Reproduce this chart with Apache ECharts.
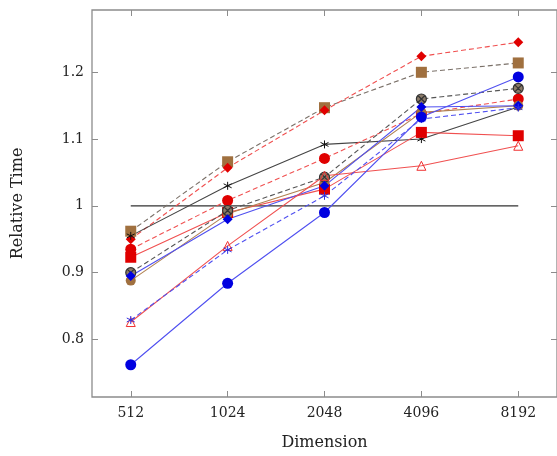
<!DOCTYPE html>
<html>
<head>
<meta charset="utf-8">
<script src="https://cdn.jsdelivr.net/npm/echarts@6/dist/echarts.min.js"></script>
<style>
  html, body { margin: 0; padding: 0; background: #ffffff; }
  #chart { width: 557px; height: 456px; }
</style>
</head>
<body>
<div id="chart"></div>
<script>
// x categories (log2 spaced) and y tick labels
const dims = ['512', '1024', '2048', '4096', '8192'];
const yTicks = [0.8, 0.9, 1, 1.1, 1.2];

// series values, one per dimension
const refLine = [1, 1, 1, 1, 1];
const brownSquare = [0.962, 1.066, 1.147, 1.200, 1.214];
const redDiamond = [0.950, 1.057, 1.143, 1.224, 1.245];
const blackStar = [0.955, 1.030, 1.092, 1.100, 1.148];
const redCircle = [0.935, 1.008, 1.071, 1.138, 1.160];
const redSquare = [0.923, 0.990, 1.025, 1.110, 1.105];
const otimes = [0.900, 0.993, 1.043, 1.160, 1.176];
const brownCircle = [0.888, 0.988, 1.035, 1.140, 1.150];
const blueDiamond = [0.895, 0.980, 1.030, 1.148, 1.150];
const redTriangle = [0.826, 0.940, 1.045, 1.060, 1.090];
const blueStar = [0.829, 0.934, 1.015, 1.130, 1.147];
const blueCircle = [0.762, 0.884, 0.990, 1.133, 1.193];

const asterisk = 'path://M0,-5L0,5M-4.33,-2.5L4.33,2.5M-4.33,2.5L4.33,-2.5';
const otimesPath = 'path://M5,0A5,5 0 1,1 -5,0A5,5 0 1,1 5,0ZM-3.5,-3.5L3.5,3.5M-3.5,3.5L3.5,-3.5';

function pts(arr) {
  return arr.map((v, i) => [i, v]);
}

function line(name, arr, lineColor, dashed, symbol, size, fill, border, bw) {
  return {
    name: name,
    type: 'line',
    data: pts(arr),
    symbol: symbol,
    symbolSize: size,
    lineStyle: { color: lineColor, width: 1.1, type: dashed ? [5, 3] : 'solid' },
    itemStyle: { color: fill, borderColor: border || fill, borderWidth: bw || 0 },
    animation: false
  };
}

const grey = '#8c8c8c';
const fontFam = 'DejaVu Serif';
const tickStyle = { show: true, inside: true, length: 6, lineStyle: { color: grey } };

let option = {
  backgroundColor: '#ffffff',
  grid: { left: 92, right: -3, top: 10, bottom: 57, show: true, borderColor: grey, borderWidth: 1.3 },
  xAxis: [
    {
      type: 'value', min: -0.4, max: 4.4,
      axisLine: { show: false, onZero: false },
      splitLine: { show: false },
      axisTick: Object.assign({ customValues: [0, 1, 2, 3, 4] }, tickStyle),
      axisLabel: {
        customValues: [0, 1, 2, 3, 4],
        formatter: v => dims[Math.round(v)],
        color: '#222', fontFamily: fontFam, fontSize: 14, margin: 9
      },
      name: 'Dimension', nameLocation: 'middle', nameGap: 38,
      nameTextStyle: { color: '#222', fontFamily: fontFam, fontSize: 16 }
    },
    {
      type: 'value', min: -0.4, max: 4.4, position: 'top',
      axisLine: { show: false, onZero: false }, splitLine: { show: false },
      axisTick: Object.assign({ customValues: [0, 1, 2, 3, 4] }, tickStyle),
      axisLabel: { show: false }
    }
  ],
  yAxis: [
    {
      type: 'value', min: 0.7137, max: 1.2933,
      axisLine: { show: false, onZero: false }, splitLine: { show: false },
      axisTick: Object.assign({ customValues: yTicks }, tickStyle),
      axisLabel: {
        customValues: yTicks,
        formatter: v => String(Math.round(v * 10) / 10),
        color: '#222', fontFamily: fontFam, fontSize: 14, margin: 8
      },
      name: 'Relative Time', nameLocation: 'middle', nameGap: 66, nameRotate: 90,
      nameTextStyle: { color: '#222', fontFamily: fontFam, fontSize: 16 }
    },
    {
      type: 'value', min: 0.7137, max: 1.2933, position: 'right',
      axisLine: { show: false, onZero: false }, splitLine: { show: false },
      axisTick: Object.assign({ customValues: yTicks }, tickStyle),
      axisLabel: { show: false }
    }
  ],
  series: [
    line('ref', refLine, '#333333', false, 'none', 0, '#333'),
    line('brownSquare', brownSquare, '#7a7068', true, 'rect', 11, '#a0703f'),
    line('redDiamond', redDiamond, '#f05050', true, 'diamond', 10, '#e00000'),
    line('blackStar', blackStar, '#444444', false, asterisk, 8, 'rgba(0,0,0,0)', '#111', 1),
    line('redCircle', redCircle, '#f05050', true, 'circle', 11, '#e00000'),
    line('redSquare', redSquare, '#f05050', false, 'rect', 11, '#e00000'),
    line('brownCircle', brownCircle, '#b08050', false, 'circle', 10, '#a0703f'),
    line('otimes', otimes, '#555555', true, otimesPath, 10, '#8a7a68', '#333', 1.2),
    line('blueDiamond', blueDiamond, '#5050f0', false, 'diamond', 10, '#0000e0'),
    line('redTriangle', redTriangle, '#f05050', false, 'triangle', 9, 'rgba(255,255,255,0)', '#f03030', 1),
    line('blueStar', blueStar, '#5050f0', true, asterisk, 8, 'rgba(0,0,0,0)', '#3030e0', 1),
    line('blueCircle', blueCircle, '#5050f0', false, 'circle', 11, '#0000e0')
  ]
};

let chart = echarts.init(document.getElementById('chart'));
chart.setOption(option);
</script>
</body>
</html>
